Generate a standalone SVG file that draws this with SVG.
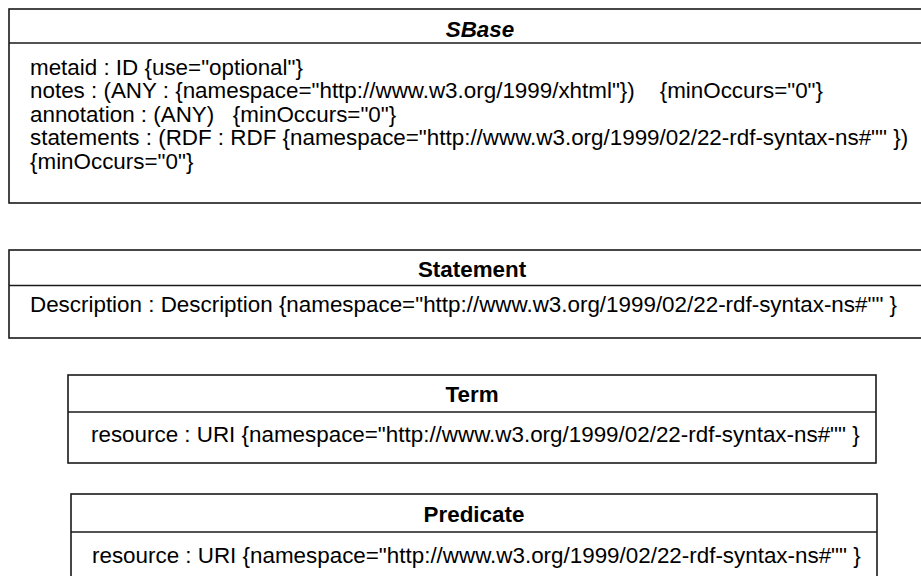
<svg xmlns="http://www.w3.org/2000/svg" width="921" height="576" viewBox="0 0 921 576" xml:space="preserve">
<style>
.box{fill:#fff;stroke:#1a1a1a;stroke-width:1.6}
.sep{stroke:#1a1a1a;stroke-width:1.6}
.t{font-family:"Liberation Sans",Arial,sans-serif;font-size:22.4px;fill:#000;white-space:pre}
.h{font-family:"Liberation Sans",Arial,sans-serif;font-size:22.4px;font-weight:bold;fill:#000;text-anchor:middle}
</style>
<rect width="921" height="576" fill="#fff"/>
<g id="SBase">
<rect class="box" x="9" y="9" width="940" height="194"/>
<line class="sep" x1="9" y1="43" x2="949" y2="43"/>
<text class="h" x="480" y="37" font-style="italic">SBase</text>
<text class="t" x="30" y="74.5">metaid : ID {use="optional"}</text>
<text class="t" x="30" y="98">notes : (ANY : {namespace="http://www.w3.org/1999/xhtml"})    {minOccurs="0"}</text>
<text class="t" x="30" y="121.5">annotation : (ANY)   {minOccurs="0"}</text>
<text class="t" x="30" y="145">statements : (RDF : RDF {namespace="http://www.w3.org/1999/02/22-rdf-syntax-ns#"" })</text>
<text class="t" x="30" y="168.5">{minOccurs="0"}</text>
</g>
<g id="Statement">
<rect class="box" x="9" y="250" width="940" height="88"/>
<line class="sep" x1="9" y1="285.5" x2="949" y2="285.5"/>
<text class="h" x="472" y="277">Statement</text>
<text class="t" x="30" y="312">Description : Description {namespace="http://www.w3.org/1999/02/22-rdf-syntax-ns#"" }</text>
</g>
<g id="Term">
<rect class="box" x="68" y="375" width="808" height="88"/>
<line class="sep" x1="68" y1="412" x2="876" y2="412"/>
<text class="h" x="472" y="402">Term</text>
<text class="t" x="91" y="442">resource : URI {namespace="http://www.w3.org/1999/02/22-rdf-syntax-ns#"" }</text>
</g>
<g id="Predicate">
<rect class="box" x="71" y="494" width="806" height="100"/>
<line class="sep" x1="71" y1="532" x2="877" y2="532"/>
<text class="h" x="474" y="522">Predicate</text>
<text class="t" x="92" y="562.5">resource : URI {namespace="http://www.w3.org/1999/02/22-rdf-syntax-ns#"" }</text>
</g>
<g id="connectors"></g>
</svg>
